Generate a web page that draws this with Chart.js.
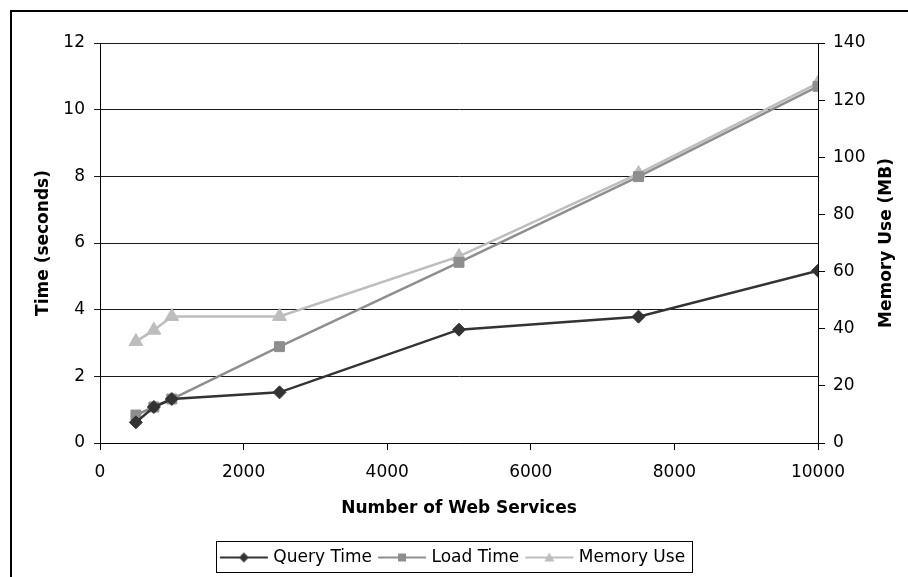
<!DOCTYPE html>
<html lang="en">
<head>
    <meta charset="UTF-8">
    <title>Query / Load Time and Memory Use</title>
    <script src="https://cdn.jsdelivr.net/npm/chart.js"></script>
    <style>
        html, body { margin: 0; padding: 0; background: #fff; }
        #wrap { width: 908px; height: 577px; position: relative; }
    </style>
</head>
<body>
    <div id="wrap">
        <canvas id="chart" width="908" height="577"></canvas>
    </div>

    <script>
        // Values
        const services = [500, 750, 1000, 2500, 5000, 7500, 10000];
        const queryTime = [0.62, 1.08, 1.32, 1.52, 3.40, 3.79, 5.17];
        const loadTime = [0.84, 1.08, 1.32, 2.89, 5.42, 7.99, 10.70];
        const memoryUse = [35.5, 39.5, 44.3, 44.3, 65.3, 94.3, 126];

        const seriesNames = ['Query Time', 'Load Time', 'Memory Use'];
        const seriesColors = ['#333333', '#8e8e8e', '#bdbdbd'];
        const seriesMarkers = ['rectRot', 'rect', 'triangle'];
        const rightTitle = 'Memory Use (MB)';

        const FONT = "'DejaVu Sans', sans-serif";

        function toPoints(values) {
            return services.map((s, i) => ({ x: s, y: values[i] }));
        }

        // small line + marker picture for the legend
        function legendSample(color, marker) {
            const c = document.createElement('canvas');
            c.width = 52; c.height = 16;
            const g = c.getContext('2d');
            g.strokeStyle = color;
            g.fillStyle = color;
            g.lineWidth = 2;
            g.beginPath();
            g.moveTo(2, 8); g.lineTo(50, 8);
            g.stroke();
            g.beginPath();
            if (marker === 'rectRot') {
                g.moveTo(26, 3); g.lineTo(31, 8); g.lineTo(26, 13); g.lineTo(21, 8);
            } else if (marker === 'rect') {
                g.rect(22, 4, 8, 8);
            } else {
                g.moveTo(26, 3); g.lineTo(31, 12); g.lineTo(21, 12);
            }
            g.closePath();
            g.fill();
            return c;
        }

        // frame lines, right axis title (reads upward) and box round the legend
        const framePlugin = {
            id: 'framePlugin',
            beforeDraw(chart) {
                const ctx = chart.ctx;
                ctx.save();
                ctx.strokeStyle = '#000';
                ctx.lineWidth = 2;
                ctx.beginPath();
                ctx.moveTo(11, 577);
                ctx.lineTo(11, 11);
                ctx.lineTo(908, 11);
                ctx.stroke();
                ctx.restore();
            },
            afterDraw(chart) {
                const ctx = chart.ctx;
                const area = chart.chartArea;

                ctx.save();
                ctx.translate(887, (area.top + area.bottom) / 2);
                ctx.rotate(-Math.PI / 2);
                ctx.fillStyle = '#000';
                ctx.font = "bold 17px " + FONT;
                ctx.textAlign = 'center';
                ctx.textBaseline = 'middle';
                ctx.fillText(rightTitle, 0, 0);
                ctx.restore();

                const boxes = chart.legend.legendHitBoxes;
                if (!boxes || !boxes.length) return;
                const first = boxes[0];
                const last = boxes[boxes.length - 1];
                ctx.save();
                ctx.strokeStyle = '#000';
                ctx.lineWidth = 1;
                ctx.strokeRect(Math.round(first.left - 7) + 0.5, Math.round(first.top - 8) + 0.5,
                    Math.round(last.left + last.width - first.left + 14), Math.round(first.height + 14));
                ctx.restore();
            }
        };

        const datasets = [queryTime, loadTime, memoryUse].map((vals, i) => ({
            label: seriesNames[i],
            data: toPoints(vals),
            yAxisID: i === 2 ? 'y2' : 'y',
            borderColor: seriesColors[i],
            backgroundColor: seriesColors[i],
            borderWidth: 2.5,
            pointStyle: seriesMarkers[i],
            pointRadius: i === 0 ? 6.5 : (i === 1 ? 7 : 8),
            pointBorderWidth: 1,
            pointBackgroundColor: seriesColors[i],
            pointBorderColor: seriesColors[i],
            tension: 0
        }));

        new Chart(document.getElementById('chart').getContext('2d'), {
            type: 'line',
            data: { datasets: datasets },
            plugins: [framePlugin],
            options: {
                responsive: false,
                animation: false,
                layout: { padding: { top: 43, left: 0, right: 0, bottom: 1 } },
                plugins: {
                    tooltip: { enabled: false },
                    legend: {
                        position: 'bottom',
                        labels: {
                            usePointStyle: true,
                            pointStyleWidth: 42,
                            padding: 9,
                            color: '#000',
                            font: { family: FONT, size: 17 },
                            generateLabels(chart) {
                                return seriesNames.map((name, i) => ({
                                    text: name,
                                    pointStyle: legendSample(seriesColors[i], seriesMarkers[i]),
                                    fillStyle: seriesColors[i],
                                    strokeStyle: seriesColors[i],
                                    lineWidth: 0,
                                    hidden: false,
                                    datasetIndex: i
                                }));
                            }
                        }
                    }
                },
                scales: {
                    x: {
                        type: 'linear',
                        position: 'bottom',
                        min: 0,
                        max: 10000,
                        afterFit(scale) { scale.height = 97; },
                        ticks: {
                            stepSize: 2000,
                            color: '#000',
                            padding: 12,
                            maxRotation: 0,
                            font: { family: FONT, size: 17 },
                            callback: (v) => String(v)
                        },
                        grid: { drawOnChartArea: false, color: '#000', tickLength: 7 },
                        border: { color: '#000', width: 1 },
                        title: {
                            display: true,
                            text: 'Number of Web Services',
                            color: '#000',
                            font: { family: FONT, size: 17, weight: 'bold' },
                            padding: { top: 0, bottom: 21 }
                        }
                    },
                    y: {
                        position: 'left',
                        min: 0,
                        max: 12,
                        afterFit(scale) { scale.width = 100; },
                        ticks: {
                            stepSize: 2,
                            color: '#000',
                            padding: 9,
                            font: { family: FONT, size: 17 }
                        },
                        grid: { color: '#1a1a1a', tickLength: 6 },
                        border: { color: '#000', width: 1 },
                        title: {
                            display: true,
                            text: 'Time (seconds)',
                            color: '#000',
                            font: { family: FONT, size: 17, weight: 'bold' },
                            padding: { top: 33, bottom: 0 }
                        }
                    },
                    y2: {
                        position: 'right',
                        min: 0,
                        max: 140,
                        afterFit(scale) { scale.width = 90; },
                        ticks: {
                            stepSize: 20,
                            color: '#000',
                            padding: 8,
                            font: { family: FONT, size: 17 }
                        },
                        grid: { drawOnChartArea: false, color: '#000', tickLength: 7 },
                        border: { color: '#000', width: 1 },
                        title: { display: false }
                    }
                }
            }
        });
    </script>
</body>
</html>
